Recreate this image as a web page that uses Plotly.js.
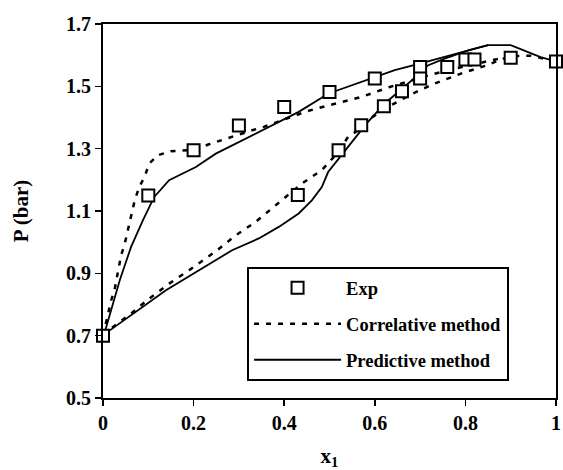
<!DOCTYPE html>
<html>
<head>
<meta charset="utf-8">
<script src="https://cdn.plot.ly/plotly-3.0.1.min.js"></script>
<style>html,body{margin:0;padding:0;background:#fff;}#chart{width:563px;height:470px;}</style>
</head>
<body>
<div id="chart"></div>
<script>
// Experimental points
var expX = [0, 0.1, 0.2, 0.3, 0.4, 0.5, 0.6, 0.7, 0.8, 0.9, 1.0, 0.43, 0.52, 0.57, 0.62, 0.66, 0.70, 0.76, 0.82];
var expY = [0.70, 1.15, 1.295, 1.374, 1.434, 1.482, 1.525, 1.562, 1.586, 1.592, 1.58, 1.151, 1.295, 1.375, 1.436, 1.484, 1.525, 1.562, 1.586];

// Correlative method (two branches)
var corBubX = [0, 0.022, 0.062, 0.102, 0.146, 0.190, 0.252, 0.293, 0.337, 0.395, 0.439, 0.483, 0.52, 0.541, 0.563, 0.593, 0.629, 0.684, 0.732, 0.790, 0.849, 0.874, 0.9, 0.945, 1.0];
var corBubY = [0.70, 0.728, 0.771, 0.819, 0.867, 0.910, 0.974, 1.022, 1.065, 1.134, 1.188, 1.231, 1.29, 1.338, 1.359, 1.40, 1.434, 1.477, 1.509, 1.541, 1.568, 1.584, 1.597, 1.598, 1.58];
var corDewX = [0, 0.0075, 0.018, 0.026, 0.040, 0.048, 0.059, 0.070, 0.080, 0.092, 0.102, 0.121, 0.150, 0.176, 0.2, 0.234, 0.282, 0.329, 0.355, 0.41, 0.45, 0.498, 0.571, 0.633, 0.728, 0.783, 0.85, 0.9];
var corDewY = [0.70, 0.749, 0.813, 0.851, 0.958, 0.995, 1.070, 1.134, 1.177, 1.21, 1.252, 1.279, 1.292, 1.294, 1.296, 1.314, 1.338, 1.359, 1.370, 1.40, 1.42, 1.439, 1.466, 1.498, 1.539, 1.559, 1.58, 1.597];

// Predictive method (two branches)
var predBubX = [0, 0.015, 0.139, 0.212, 0.285, 0.344, 0.388, 0.432, 0.461, 0.483, 0.497, 0.523, 0.563, 0.582, 0.622, 0.673, 0.695, 0.717, 0.754, 0.808, 0.85, 0.9, 0.929, 0.966, 1.0];
var predBubY = [0.70, 0.717, 0.846, 0.910, 0.974, 1.012, 1.049, 1.092, 1.134, 1.177, 1.225, 1.273, 1.348, 1.381, 1.445, 1.509, 1.536, 1.567, 1.589, 1.616, 1.632, 1.632, 1.616, 1.594, 1.58];
var predDewX = [0, 0.004, 0.037, 0.062, 0.088, 0.113, 0.146, 0.168, 0.205, 0.249, 0.307, 0.359, 0.432, 0.498, 0.593, 0.644, 0.699, 0.754, 0.808, 0.85];
var predDewY = [0.70, 0.712, 0.878, 0.985, 1.070, 1.145, 1.199, 1.215, 1.241, 1.284, 1.327, 1.364, 1.418, 1.477, 1.525, 1.552, 1.573, 1.594, 1.616, 1.632];

var seriesNames = ["Exp", "Correlative method", "Predictive method"];
var xTickVals = [0, 0.2, 0.4, 0.6, 0.8, 1];
var xTickText = ["0", "0.2", "0.4", "0.6", "0.8", "1"];
var yTickVals = [0.5, 0.7, 0.9, 1.1, 1.3, 1.5, 1.7];
var yTickText = ["0.5", "0.7", "0.9", "1.1", "1.3", "1.5", "1.7"];

var FONT = "Liberation Serif, Times New Roman, serif";
var corLine = {color: "#000", width: 2.5, dash: "5px,7px"};
var predLine = {color: "#000", width: 1.8};

var traces = [
  {x: predBubX, y: predBubY, mode: "lines", line: predLine, name: seriesNames[2], legendgroup: "c", legendrank: 3, showlegend: true, hoverinfo: "skip"},
  {x: predDewX, y: predDewY, mode: "lines", line: predLine, name: seriesNames[2], legendgroup: "c", legendrank: 3, showlegend: false, hoverinfo: "skip"},
  {x: corBubX, y: corBubY, mode: "lines", line: corLine, name: seriesNames[1], legendgroup: "b", legendrank: 2, showlegend: true, hoverinfo: "skip"},
  {x: corDewX, y: corDewY, mode: "lines", line: corLine, name: seriesNames[1], legendgroup: "b", legendrank: 2, showlegend: false, hoverinfo: "skip"},
  {x: expX, y: expY, mode: "markers", name: seriesNames[0], legendgroup: "a", legendrank: 1, cliponaxis: false,
   marker: {symbol: "square", size: 12, color: "#fff", line: {color: "#000", width: 2}}}
];

var layout = {
  width: 563, height: 470,
  margin: {l: 103, r: 7, t: 24, b: 72},
  paper_bgcolor: "#fff", plot_bgcolor: "#fff",
  font: {family: FONT, size: 20, color: "#000", weight: "bold"},
  xaxis: {
    range: [0, 1], tickvals: xTickVals, ticktext: xTickText,
    showgrid: false, zeroline: false, showline: true, linecolor: "#000", linewidth: 2, mirror: true,
    ticks: "outside", ticklen: 6, tickwidth: 1.5, tickcolor: "#000",
    tickfont: {family: FONT, size: 20, color: "#000", weight: "bold"},
    title: {text: "x<sub>1</sub>", font: {family: FONT, size: 21, color: "#000", weight: "bold"}, standoff: 27}
  },
  yaxis: {
    range: [0.5, 1.7], tickvals: yTickVals, ticktext: yTickText,
    showgrid: false, zeroline: false, showline: true, linecolor: "#000", linewidth: 2, mirror: true,
    ticks: "outside", ticklen: 6, tickwidth: 1.5, tickcolor: "#000",
    tickfont: {family: FONT, size: 20, color: "#000", weight: "bold"},
    title: {text: "P (bar)", font: {family: FONT, size: 21, color: "#000", weight: "bold"}, standoff: 32}
  },
  showlegend: true,
  legend: {
    x: 0.318, y: 0.35, xanchor: "left", yanchor: "top",
    bordercolor: "#000", borderwidth: 2, bgcolor: "#fff",
    font: {family: FONT, size: 18.5, color: "#000", weight: "bold"},
    traceorder: "grouped", tracegroupgap: 9, itemwidth: 87
  }
};

Plotly.newPlot("chart", traces, layout, {displayModeBar: false, staticPlot: true});
</script>
</body>
</html>
